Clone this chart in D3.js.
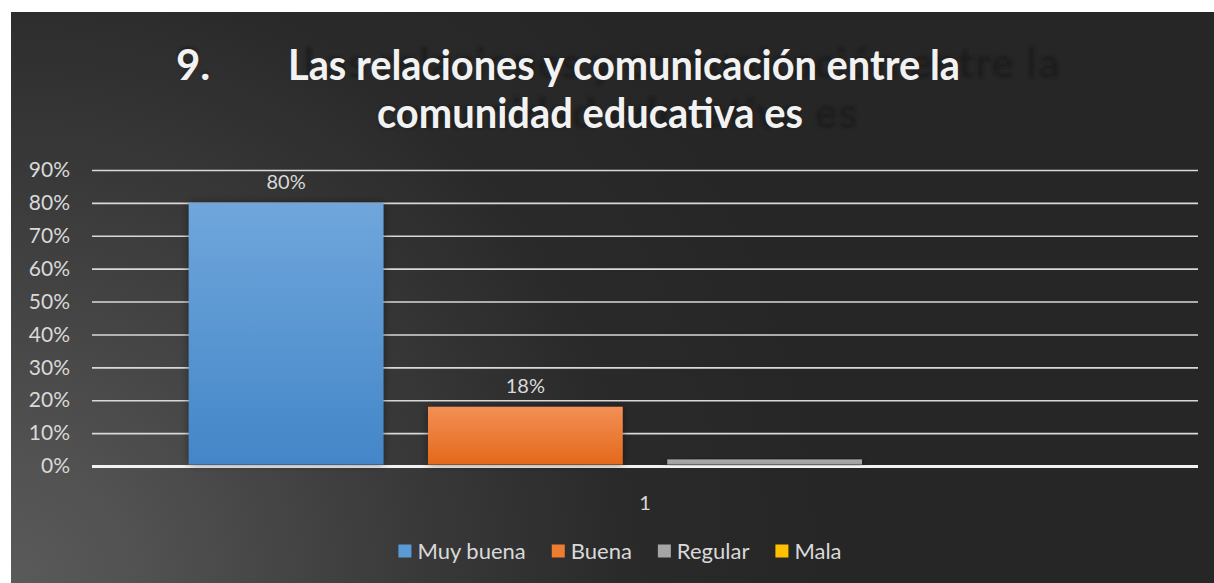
<!DOCTYPE html>
<html>
<head>
<meta charset="utf-8">
<script src="https://cdn.jsdelivr.net/npm/d3@7"></script>
<style>
  html, body { margin: 0; padding: 0; background: #fff; }
  svg { display: block; }
  text { font-family: Lato, "Open Sans", sans-serif; }
</style>
</head>
<body>
<svg id="chart"></svg>
<script>
const width = 1214;
const height = 583;

// Data
const categories = ["1"];
const series = ["Muy buena", "Buena", "Regular", "Mala"];
const values = [0.80, 0.18, 0.02, 0];
const valueLabels = ["80%", "18%", "", ""];
const yTicks = [0, 0.1, 0.2, 0.3, 0.4, 0.5, 0.6, 0.7, 0.8, 0.9];
const titleNumber = "9.";
const titleLines = ["Las relaciones y comunicación entre la", "comunidad educativa es"];

const colors = {
  "Muy buena": ["#70a6dc", "#4386c8"],
  "Buena": ["#f38f55", "#e3691b"],
  "Regular": ["#a9a9a9", "#a0a0a0"],
  "Mala": ["#ffc90e", "#f2b700"]
};
const legendColors = { "Muy buena": "#5b9bd5", "Buena": "#ed7d31", "Regular": "#a5a5a5", "Mala": "#ffc000" };

const plot = { left: 92, right: 1198, top: 170, bottom: 466 };

const svg = d3.select("#chart").attr("width", width).attr("height", height);
const defs = svg.append("defs");

// Background gradient
const bg = defs.append("radialGradient")
  .attr("id", "bg")
  .attr("gradientUnits", "userSpaceOnUse")
  .attr("cx", 11).attr("cy", 583).attr("r", 820);
[[0, "#5a5a5a"], [0.15, "#525252"], [0.5, "#393939"], [0.75, "#2a2a2a"], [1, "#262626"]]
  .forEach(([o, c]) => bg.append("stop").attr("offset", o).attr("stop-color", c));

series.forEach((s, i) => {
  const g = defs.append("linearGradient").attr("id", "grad" + i)
    .attr("x1", 0).attr("y1", 0).attr("x2", 0).attr("y2", 1);
  g.append("stop").attr("offset", 0).attr("stop-color", colors[s][0]);
  g.append("stop").attr("offset", 1).attr("stop-color", colors[s][1]);
});

defs.append("filter").attr("id", "blur")
  .append("feGaussianBlur").attr("stdDeviation", 1.6);

const shadow = defs.append("filter").attr("id", "barShadow")
  .attr("x", "-10%").attr("y", "-10%").attr("width", "120%").attr("height", "120%");
shadow.append("feDropShadow").attr("dx", 0).attr("dy", 0)
  .attr("stdDeviation", 4).attr("flood-color", "#000").attr("flood-opacity", 0.45);

svg.append("rect")
  .attr("x", 11).attr("y", 12)
  .attr("width", width - 11).attr("height", height - 12)
  .attr("fill", "url(#bg)");

// Title shadow (letter-spaced, blurred, anchored at line start)
const stretch = 1.127;
const sh = svg.append("g").attr("filter", "url(#blur)").attr("fill", "#151515").attr("opacity", 0.6)
  .attr("font-weight", 700).attr("font-size", 42);
sh.append("text").attr("x", 176).attr("y", 78).text(titleNumber);
sh.append("text").attr("x", 176 + (288 - 176) * stretch).attr("y", 78)
  .attr("textLength", 672 * stretch).attr("lengthAdjust", "spacing").text(titleLines[0]);
sh.append("text").attr("x", 377).attr("y", 128)
  .attr("textLength", 426 * stretch).attr("lengthAdjust", "spacing").text(titleLines[1]);

// Title
const title = svg.append("g").attr("fill", "#f2f2f2").attr("font-weight", 700).attr("font-size", 42);
title.append("text").attr("x", 176).attr("y", 80).text(titleNumber);
title.append("text").attr("x", 288).attr("y", 80)
  .attr("textLength", 672).attr("lengthAdjust", "spacingAndGlyphs").text(titleLines[0]);
title.append("text").attr("x", 377).attr("y", 128)
  .attr("textLength", 426).attr("lengthAdjust", "spacingAndGlyphs").text(titleLines[1]);

// Scales
const y = d3.scaleLinear().domain([0, 0.9]).range([plot.bottom, plot.top]);
const x0 = d3.scaleBand().domain(categories).range([plot.left, plot.right])
  .paddingInner(0).paddingOuter(0.106);
const x1 = d3.scaleBand().domain(series).range([0, x0.bandwidth()])
  .paddingInner(0.186).paddingOuter(0);

// Y axis with gridlines
const yAxis = d3.axisLeft(y)
  .tickValues(yTicks)
  .tickFormat(d3.format(".0%"))
  .tickSize(-(plot.right - plot.left))
  .tickPadding(22);

svg.append("g")
  .attr("id", "y-axis")
  .attr("transform", `translate(${plot.left},0)`)
  .call(yAxis)
  .call(g => g.select(".domain").remove())
  .call(g => g.selectAll(".tick line")
    .attr("stroke", d => d === 0 ? "#f2f2f2" : "#d9d9d9")
    .attr("stroke-width", d => d === 0 ? 3 : 1.6))
  .call(g => g.selectAll(".tick text")
    .attr("fill", "#d9d9d9")
    .attr("font-size", 21)
    .attr("font-family", "Lato, sans-serif"));

// Bars
const data = series.map((s, i) => ({ series: s, value: values[i], label: valueLabels[i], idx: i }));
const group = svg.append("g").attr("transform", `translate(${x0(categories[0])},0)`);

group.selectAll(".bar")
  .data(data.filter(d => d.value > 0))
  .enter()
  .append("rect")
  .attr("class", "bar")
  .attr("x", d => x1(d.series))
  .attr("y", d => y(d.value))
  .attr("width", x1.bandwidth())
  .attr("height", d => y(0) - y(d.value) - 1.5)
  .attr("fill", d => `url(#grad${d.idx})`)
  .attr("filter", "url(#barShadow)");

group.selectAll(".val")
  .data(data.filter(d => d.label))
  .enter()
  .append("text")
  .attr("class", "val")
  .attr("x", d => x1(d.series) + x1.bandwidth() / 2)
  .attr("y", d => y(d.value) - 14)
  .attr("text-anchor", "middle")
  .attr("fill", "#d9d9d9")
  .attr("font-size", 20)
  .text(d => d.label);

// X axis category label
const xAxis = d3.axisBottom(x0).tickSize(0).tickPadding(30);
svg.append("g")
  .attr("id", "x-axis")
  .attr("transform", `translate(0,${plot.bottom})`)
  .call(xAxis)
  .call(g => g.select(".domain").remove())
  .call(g => g.selectAll(".tick text")
    .attr("fill", "#d9d9d9")
    .attr("font-size", 20)
    .attr("font-family", "Lato, sans-serif"));

// Legend
const legend = svg.append("g").attr("id", "legend");
const items = legend.selectAll("g").data(series).enter().append("g");
items.append("rect")
  .attr("width", 13).attr("height", 13).attr("y", -6.5)
  .attr("fill", d => legendColors[d]);
items.append("text")
  .attr("x", 19).attr("dy", "0.35em")
  .attr("fill", "#d9d9d9").attr("font-size", 22)
  .text(d => d);

let cursor = 0;
items.each(function () {
  const w = this.getBBox().width;
  d3.select(this).attr("data-x", cursor);
  cursor += w + 26;
});
const total = cursor - 26;
const start = 620 - total / 2;
items.attr("transform", function () {
  return `translate(${start + (+d3.select(this).attr("data-x"))},551)`;
});
</script>
</body>
</html>
